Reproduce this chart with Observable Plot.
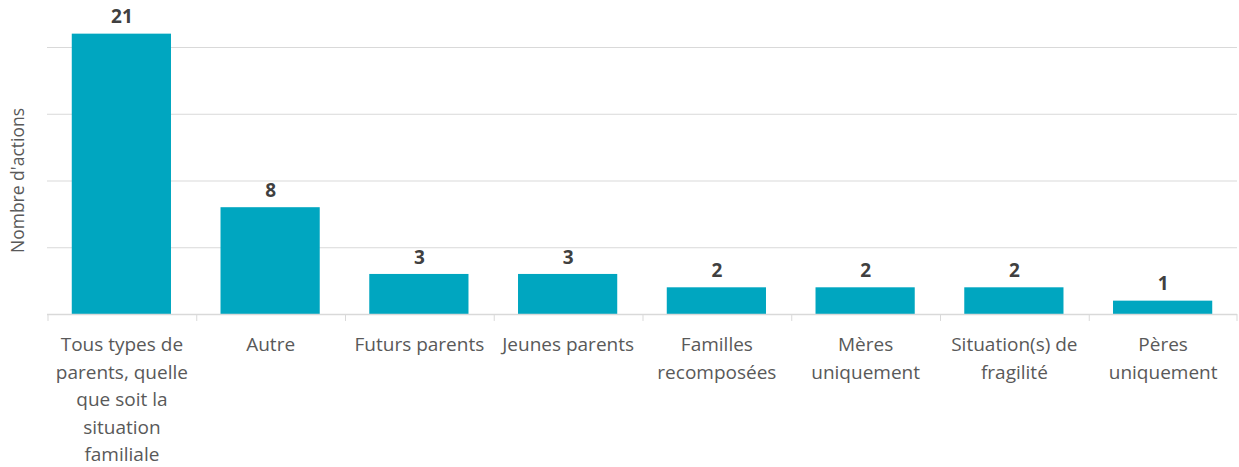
<!DOCTYPE html>
<html><head><meta charset="utf-8">
<script src="https://cdn.jsdelivr.net/npm/d3@7"></script>
<script src="https://cdn.jsdelivr.net/npm/@observablehq/plot@0.6"></script>
<style>
html,body{margin:0;padding:0;background:#fff;}
#chart svg{display:block;}
</style>
</head><body><div id="chart"></div>
<script>
const categories = ["Tous types de parents, quelle que soit la situation familiale","Autre","Futurs parents","Jeunes parents","Familles recomposées","Mères uniquement","Situation(s) de fragilité","Pères uniquement"];
const tickLabels = ["Tous types de\nparents, quelle\nque soit la\nsituation\nfamiliale","Autre","Futurs parents","Jeunes parents","Familles\nrecomposées","Mères\nuniquement","Situation(s) de\nfragilité","Pères\nuniquement"];
const values = [21, 8, 3, 3, 2, 2, 2, 1];
const gridValues = [5, 10, 15, 20];
const yLabel = "Nombre d'actions";

const data = categories.map((c, i) => ({cat: c, value: values[i], label: tickLabels[i]}));
const W = 1239, H = 467, mL = 47, mR = 2;
const step = (W - mL - mR) / categories.length;
const font = "'Open Sans', sans-serif";

const plot = Plot.plot({
  width: W, height: H,
  marginLeft: mL, marginRight: mR, marginTop: 0, marginBottom: H - 314,
  style: {fontFamily: font, background: "#fff"},
  x: {domain: categories, paddingInner: 0.333, paddingOuter: 0.1665, align: 0.5, round: false},
  y: {domain: [0, 20], range: [314, 47]},
  marks: [
    Plot.ruleY(gridValues, {stroke: "#d9d9d9", strokeWidth: 1}),
    Plot.barY(data, {x: "cat", y: "value", fill: "#00a6c0"}),
    Plot.ruleY([0], {stroke: "#d9d9d9", strokeWidth: 1.3}),
    Plot.ruleX(data, {x: "cat", dx: -step / 2 + 0.5, y1: 0, y2: -0.52, stroke: "#d9d9d9"}),
    Plot.ruleX([data[data.length - 1]], {x: "cat", dx: step / 2 - 0.5, y1: 0, y2: -0.52, stroke: "#d9d9d9"}),
    Plot.text(data, {x: "cat", y: "value", text: d => String(d.value), dy: -17, fontSize: 19, fontWeight: "bold", fill: "#404040"}),
    Plot.axisX({tickSize: 0, tickPadding: 0, tickFormat: (d) => tickLabels[categories.indexOf(d)], fontSize: 19, lineHeight: 1.45, lineAnchor: "top", dy: 17, fill: "#595959", label: null}),
    Plot.axisY({ticks: [], label: null}),
    Plot.text([yLabel], {frameAnchor: "left", textAnchor: "middle", text: d => d, rotate: -90, dx: -29, dy: 23, fontSize: 17.5, fill: "#595959"})
  ]
});
document.getElementById("chart").appendChild(plot);
</script>
</body></html>
